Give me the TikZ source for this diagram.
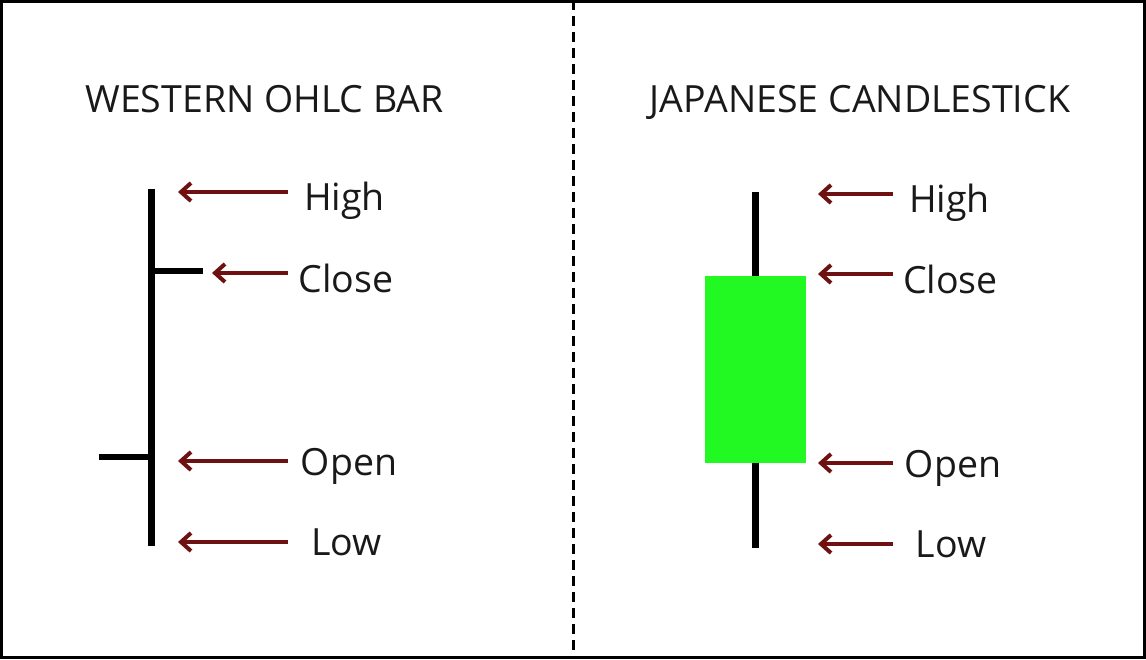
\documentclass[tikz,border=0pt]{standalone}
\usepackage{fontspec}
\setmainfont{Open Sans}
\usetikzlibrary{arrows.meta}
\definecolor{arrowred}{HTML}{6E1111}
\definecolor{candlegreen}{HTML}{22F822}
\begin{document}
\begin{tikzpicture}[x=1pt,y=-1pt,
  ptr/.style={draw=arrowred,line width=3.5pt,-{Straight Barb[length=10pt,width=18pt,line width=4pt]}},
  lbl/.style={font=\fontsize{37.5}{42}\selectfont,text=black!90,inner sep=0pt,anchor=base},
  ttl/.style={font=\fontsize{37.5}{42}\selectfont,text=black!90,inner sep=0pt,anchor=base},
  stick/.style={line width=7pt,black},
  tick/.style={line width=6pt,black}]
\useasboundingbox (0,0) rectangle (1146,659);
\draw[line width=3pt] (1.5,1.5) rectangle (1144.5,657.5);
\coordinate (divtop) at (573,0);
\coordinate (divbot) at (573,659);
\draw[line width=3pt,dash pattern=on 10pt off 6pt] (divtop) -- (divbot);
% titles
\node[ttl] (t1) at (264.5,112) {WESTERN OHLC BAR};
\node[ttl] (t2) at (860,112) {JAPANESE CANDLESTICK};
% western bar
\coordinate (wtop) at (151,189);
\coordinate (wbot) at (151,546);
\draw[stick] (wtop) -- (wbot);
\coordinate (cl0) at (151,271);
\coordinate (cl1) at (203,271);
\draw[tick] (cl0) -- (cl1);
\coordinate (op0) at (99,457);
\coordinate (op1) at (151,457);
\draw[tick] (op0) -- (op1);
% western labels
\node[lbl] (wh) at (344.5,210) {High};
\node[lbl] (wc) at (346,292) {Close};
\node[lbl] (wo) at (349,475) {Open};
\node[lbl] (wl) at (346.5,555) {Low};
\coordinate (wha) at (288,192); \coordinate (whb) at (178,192);
\coordinate (wca) at (288,273); \coordinate (wcb) at (212,273);
\coordinate (woa) at (288,461); \coordinate (wob) at (178,461);
\coordinate (wla) at (288,542); \coordinate (wlb) at (178,542);
\draw[ptr] (wha) -- (whb);
\draw[ptr] (wca) -- (wcb);
\draw[ptr] (woa) -- (wob);
\draw[ptr] (wla) -- (wlb);
% candlestick
\coordinate (jtop) at (755,192);
\coordinate (jbot) at (755,548);
\draw[stick] (jtop) -- (jbot);
\node[fill=candlegreen,draw=none,minimum width=101pt,minimum height=187pt,inner sep=0pt] (body) at (755.5,369.5) {};
\node[lbl] (jh) at (949.5,212) {High};
\node[lbl] (jc) at (950.5,293) {Close};
\node[lbl] (jo) at (953,477) {Open};
\node[lbl] (jl) at (951,557) {Low};
\coordinate (jha) at (893,194); \coordinate (jhb) at (818,194);
\coordinate (jca) at (893,274); \coordinate (jcb) at (818,274);
\coordinate (joa) at (893,463); \coordinate (job) at (818,463);
\coordinate (jla) at (893,544); \coordinate (jlb) at (818,544);
\draw[ptr] (jha) -- (jhb);
\draw[ptr] (jca) -- (jcb);
\draw[ptr] (joa) -- (job);
\draw[ptr] (jla) -- (jlb);
\end{tikzpicture}
\end{document}
